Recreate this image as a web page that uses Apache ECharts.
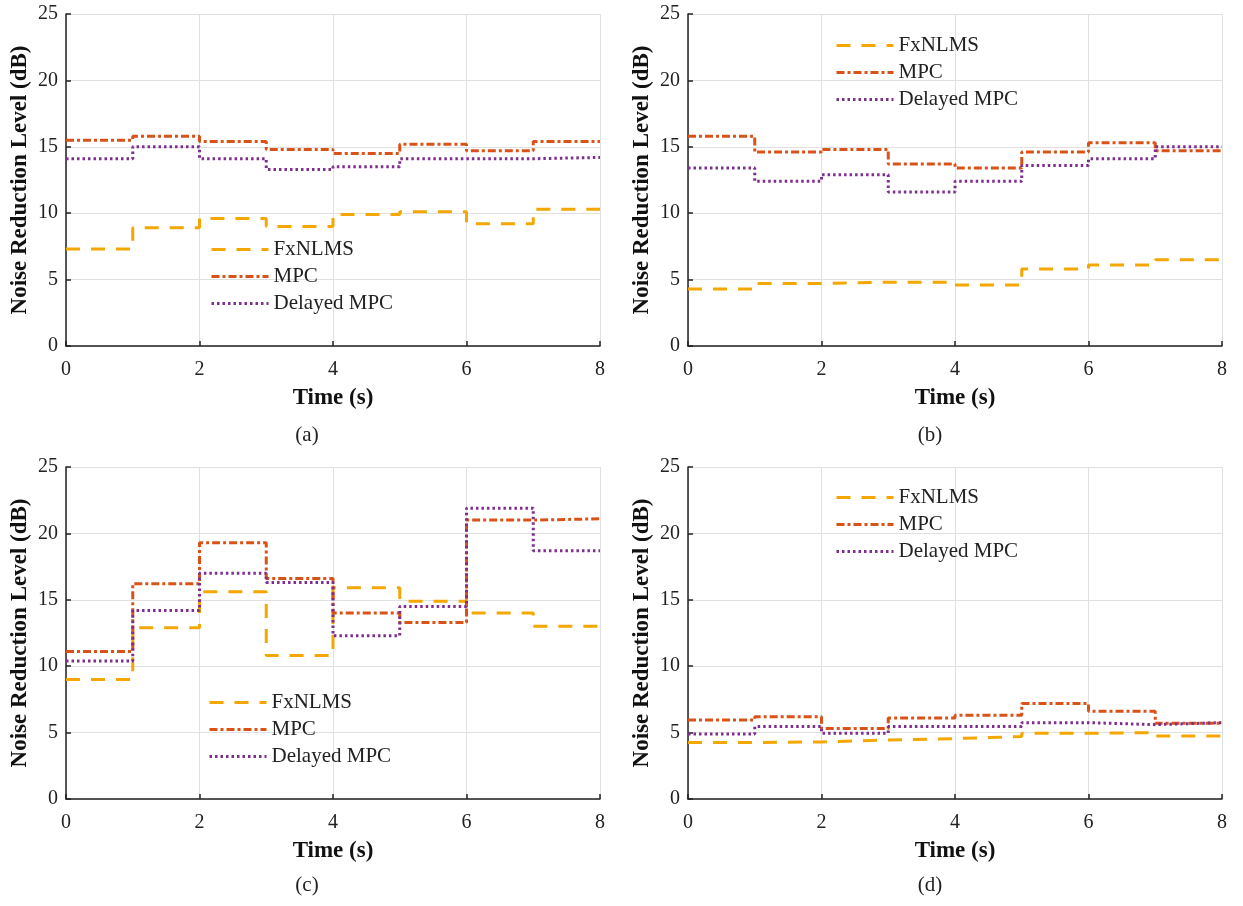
<!DOCTYPE html>
<html>
<head>
<meta charset="utf-8">
<script src="https://cdn.jsdelivr.net/npm/echarts@6/dist/echarts.min.js"></script>
<style>
html,body{margin:0;padding:0;background:#fff;}
#chart{width:1243px;height:906px;}
</style>
</head>
<body>
<div id="chart"></div>
<script>
// ---- data ----
const timeEdges = [0, 1, 2, 3, 4, 5, 6, 7, 8];
const seriesNames = ['FxNLMS', 'MPC', 'Delayed MPC'];
const xTicks = [0, 2, 4, 6, 8];
const yTicks = [0, 5, 10, 15, 20, 25];
const panelLabels = ['(a)', '(b)', '(c)', '(d)'];
const xAxisTitle = 'Time (s)';
const yAxisTitle = 'Noise Reduction Level (dB)';

const a_fxnlms = [7.3, 8.9, 9.6, 9.0, 9.9, 10.1, 9.2, 10.3];
const a_mpc    = [15.5, 15.8, 15.4, 14.8, 14.5, 15.2, 14.7, 15.4];
const a_dmpc   = [14.1, 15.0, 14.1, 13.3, 13.5, 14.1, 14.1, 14.2];

const b_fxnlms = [4.3, 4.7, 4.8, 4.8, 4.6, 5.8, 6.1, 6.5];
const b_mpc    = [15.8, 14.6, 14.8, 13.7, 13.4, 14.6, 15.3, 14.7];
const b_dmpc   = [13.4, 12.4, 12.9, 11.6, 12.4, 13.6, 14.1, 15.0];

const c_fxnlms = [9.0, 12.9, 15.6, 10.8, 15.9, 14.9, 14.0, 13.0];
const c_mpc    = [11.1, 16.2, 19.3, 16.6, 14.0, 13.3, 21.0, 21.1];
const c_dmpc   = [10.4, 14.2, 17.0, 16.3, 12.3, 14.5, 21.9, 18.7];

const d_fxnlms = [4.25, 4.3, 4.45, 4.55, 4.7, 4.95, 5.0, 4.75];
const d_mpc    = [5.95, 6.2, 5.3, 6.1, 6.3, 7.2, 6.6, 5.7];
const d_dmpc   = [4.9, 5.45, 4.95, 5.45, 5.45, 5.75, 5.6, 5.75];

const panels = [
  [a_fxnlms, a_mpc, a_dmpc],
  [b_fxnlms, b_mpc, b_dmpc],
  [c_fxnlms, c_mpc, c_dmpc],
  [d_fxnlms, d_mpc, d_dmpc]
];

// ---- layout / style ----
const FONT = "'Liberation Serif','Times New Roman',serif";
const grids = [
  {left: 66,  top: 14,  width: 534, height: 332},
  {left: 688, top: 14,  width: 534, height: 332},
  {left: 66,  top: 467, width: 534, height: 332},
  {left: 688, top: 467, width: 534, height: 332}
];
const legendPos = [
  {left: 210, top: 239},
  {left: 835, top: 35},
  {left: 208, top: 692},
  {left: 835, top: 487}
];
const captionPos = [[307, 435], [930, 435], [307, 885], [930, 885]];
const styles = [
  {color: '#F3A700', type: [14, 11]},
  {color: '#D95319', type: [8, 3, 3, 3]},
  {color: '#7E2F8E', type: [2.5, 3]}
];

function stepData(vals) {
  const d = vals.map((v, i) => [timeEdges[i], v]);
  d.push([timeEdges[timeEdges.length - 1], vals[vals.length - 1]]);
  return d;
}

const xAxes = [], yAxes = [], series = [], legends = [], graphics = [];
grids.forEach((g, p) => {
  xAxes.push({
    type: 'value', gridIndex: p, min: xTicks[0], max: xTicks[xTicks.length - 1], interval: 2,
    name: xAxisTitle, nameLocation: 'middle', nameGap: 41,
    nameTextStyle: {fontFamily: FONT, fontWeight: 'bold', fontSize: 23, color: '#111'},
    axisLine: {show: true, onZero: false, lineStyle: {color: '#222', width: 1.5}},
    axisTick: {show: true, inside: true, length: 5, lineStyle: {color: '#222', width: 1.5}},
    axisLabel: {fontFamily: FONT, fontSize: 20, color: '#222', margin: 14},
    splitLine: {show: true, lineStyle: {color: '#e0e0e0', width: 1}}
  });
  yAxes.push({
    type: 'value', gridIndex: p, min: yTicks[0], max: yTicks[yTicks.length - 1], interval: 5,
    name: yAxisTitle, nameLocation: 'middle', nameGap: 34,
    nameTextStyle: {fontFamily: FONT, fontWeight: 'bold', fontSize: 23, color: '#111'},
    axisLine: {show: true, onZero: false, lineStyle: {color: '#222', width: 1.5}},
    axisTick: {show: true, inside: true, length: 5, lineStyle: {color: '#222', width: 1.5}},
    axisLabel: {fontFamily: FONT, fontSize: 20, color: '#222', margin: 8},
    splitLine: {show: true, lineStyle: {color: '#e0e0e0', width: 1}}
  });
  panels[p].forEach((vals, s) => {
    series.push({
      type: 'line', name: seriesNames[s], xAxisIndex: p, yAxisIndex: p,
      step: 'end', symbol: 'none', showSymbol: false,
      lineStyle: {color: styles[s].color, width: 3, type: styles[s].type},
      itemStyle: {color: styles[s].color},
      data: stepData(vals), z: 3 + s
    });
  });
  legends.push({
    orient: 'vertical', left: legendPos[p].left, top: legendPos[p].top,
    padding: 0, itemGap: 6, itemWidth: 57, itemHeight: 14,
    data: seriesNames, selectedMode: false,
    itemStyle: {opacity: 0, color: 'rgba(0,0,0,0)', borderWidth: 0},
    lineStyle: {width: 3},
    textStyle: {fontFamily: FONT, fontSize: 21, color: '#222', lineHeight: 21}
  });
  graphics.push({
    type: 'text', x: captionPos[p][0], y: captionPos[p][1],
    style: {text: panelLabels[p], font: "21px 'Liberation Serif', serif", fill: '#222',
            textAlign: 'center', textVerticalAlign: 'middle'}
  });
});

const chart = echarts.init(document.getElementById('chart'), null, {renderer: 'canvas'});
chart.setOption({
  animation: false,
  backgroundColor: '#fff',
  grid: grids,
  xAxis: xAxes,
  yAxis: yAxes,
  legend: legends,
  series: series,
  graphic: graphics
});
</script>
</body>
</html>
